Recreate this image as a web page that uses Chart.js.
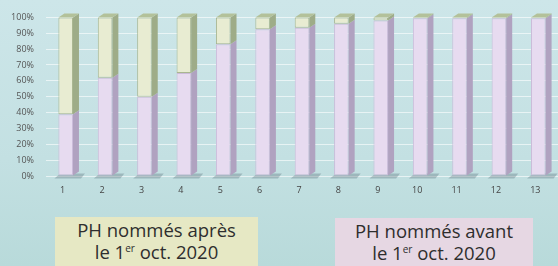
<!DOCTYPE html>
<html><head><meta charset="utf-8">
<script src="https://cdn.jsdelivr.net/npm/chart.js@4/dist/chart.umd.min.js"></script>
<style>
html,body{margin:0;padding:0;}
body{width:558px;height:266px;overflow:hidden;position:relative;
 background:linear-gradient(180deg,#cde6e9 0%,#c3e0e2 60%,#b8dada 100%);font-family:"Open Sans","Noto Sans",sans-serif;}
#wrap{position:absolute;left:0;top:0;width:558px;height:200px;}
.box{position:absolute;text-align:center;color:#2e2e2e;font-size:18.5px;line-height:22px;padding-top:2px;box-sizing:border-box;}
.box sup{font-size:10px;vertical-align:7px;line-height:0;}
#b1{left:55px;top:217px;width:203px;height:49px;background:#e6e8c4;}
#b2{left:335px;top:218px;width:198px;height:48px;background:#e6d7e3;}
</style></head><body>
<div id="wrap"><canvas id="c" width="558" height="200"></canvas></div>
<div class="box" id="b1">PH nommés après<br>le 1<sup>er</sup> oct. 2020</div>
<div class="box" id="b2">PH nommés avant<br>le 1<sup>er</sup> oct. 2020</div>
<script>
const categories = ["1","2","3","4","5","6","7","8","9","10","11","12","13"];
const avant = [39, 62, 50, 65, 83, 92.5, 93.5, 96, 98, 99.5, 99.5, 99.5, 99.5];
const apres = [61, 38, 50, 35, 17, 7.5, 6.5, 4, 2, 0.5, 0.5, 0.5, 0.5];
const yTicks = [0,10,20,30,40,50,60,70,80,90,100];

const depth = {dx:6, dy:-4};
const bar3d = {
  id:'bar3d',
  beforeDatasetsDraw(chart){
    const ctx = chart.ctx;
    const m = chart.getDatasetMeta(0);
    ctx.save();
    m.data.forEach(b=>{
      const w = b.width, x0 = b.x - w/2, base = b.base;
      ctx.fillStyle='rgba(90,110,120,0.35)';
      ctx.beginPath();
      ctx.moveTo(x0-4, base+3); ctx.lineTo(x0+w+depth.dx+2, base+3);
      ctx.lineTo(x0+w+depth.dx+6, base-2); ctx.lineTo(x0+2, base-2);
      ctx.closePath(); ctx.fill();
    });
    ctx.restore();
  },
  afterDatasetsDraw(chart){
    const ctx = chart.ctx;
    const sides = ['#b0a2c0','#9eac88'];
    const tops  = ['#d8cce4','#b3c19a'];
    ctx.save();
    chart.data.datasets.forEach((ds,di)=>{
      const m = chart.getDatasetMeta(di);
      m.data.forEach((b,i)=>{
        const w = b.width, xr = b.x + w/2, xl = b.x - w/2;
        const yt = Math.min(b.y,b.base), yb = Math.max(b.y,b.base);
        if (yb-yt <= 0) return;
        ctx.fillStyle = sides[di];
        ctx.beginPath();
        ctx.moveTo(xr,yb); ctx.lineTo(xr+depth.dx,yb+depth.dy);
        ctx.lineTo(xr+depth.dx,yt+depth.dy); ctx.lineTo(xr,yt);
        ctx.closePath(); ctx.fill();
        if (di === chart.data.datasets.length-1) {
          ctx.fillStyle = tops[di];
          ctx.beginPath();
          ctx.moveTo(xl,yt); ctx.lineTo(xl+depth.dx,yt+depth.dy);
          ctx.lineTo(xr+depth.dx,yt+depth.dy); ctx.lineTo(xr,yt);
          ctx.closePath(); ctx.fill();
        }
      });
    });
    ctx.restore();
  }
};

new Chart(document.getElementById('c'), {
  type:'bar',
  data:{
    labels: categories,
    datasets:[
      {label:'avant', data: avant, backgroundColor:'#e7dbf0', borderColor:'#cbbbd9', borderWidth:1, borderSkipped:false,
       barPercentage:0.37, categoryPercentage:1},
      {label:'après', data: apres, backgroundColor:'#e8ecd2', borderColor:'#a9b690', borderWidth:1, borderSkipped:false,
       barPercentage:0.37, categoryPercentage:1}
    ]
  },
  options:{
    responsive:false, animation:false,
    layout:{padding:{top:13,right:0,left:0,bottom:0}},
    plugins:{legend:{display:false}, tooltip:{enabled:false}},
    scales:{
      x:{stacked:true,
         grid:{display:false, drawTicks:false},
         border:{display:false},
         ticks:{color:'#444', font:{size:9, family:'"Open Sans"'}, padding:9, labelOffset:-3},
         afterFit(s){ s.height = 24; }
      },
      y:{stacked:true, min:0, max:100,
         afterBuildTicks(s){ s.ticks = yTicks.map(v=>({value:v})); },
         grid:{color:'rgba(255,255,255,0.6)', drawTicks:false, lineWidth:1},
         border:{display:false},
         ticks:{color:'#555', font:{size:9, family:'"Open Sans"'}, padding:12, callback:v=>v+'%'},
         afterFit(s){ s.width = 46; }
      }
    }
  },
  plugins:[bar3d]
});
</script>
</body></html>
